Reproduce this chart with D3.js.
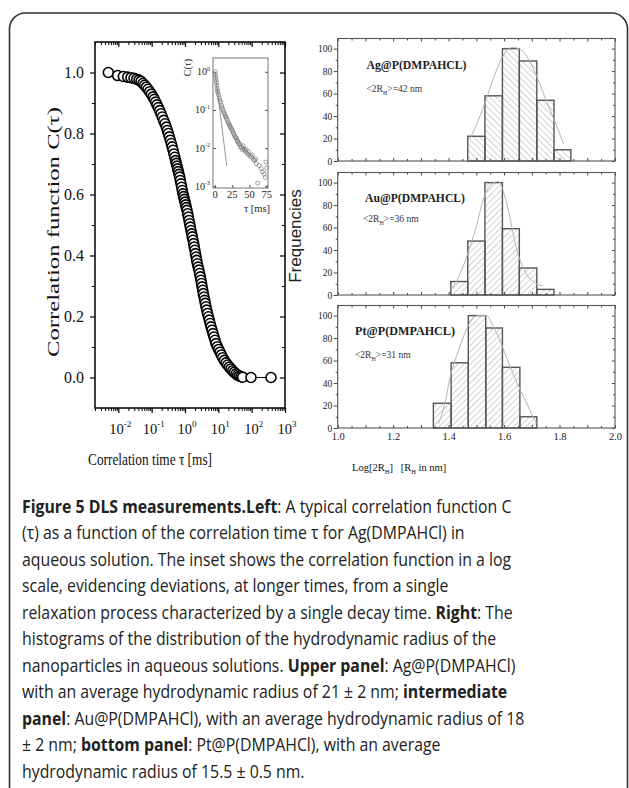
<!DOCTYPE html>
<html>
<head>
<meta charset="utf-8">
<script src="https://cdn.jsdelivr.net/npm/d3@7"></script>
<style>
  body { margin: 0; background: #fff; }
  svg { display: block; }
</style>
</head>
<body>
<svg id="fig" width="629" height="788"></svg>
<script>
// Figure 5: DLS correlation function (left) + size histograms (right)

const corrLogTau = [-2.30, -2.02, -1.85, -1.72, -1.62, -1.53, -1.45, -1.38, -1.32, -1.26,
  -1.21, -1.16, -1.11, -1.06, -1.01, -0.96, -0.92, -0.88, -0.84, -0.80,
  -0.76, -0.72, -0.68, -0.64, -0.60, -0.56, -0.53, -0.50, -0.47, -0.44,
  -0.41, -0.384, -0.358, -0.332, -0.306, -0.28, -0.26, -0.24, -0.22, -0.20,
  -0.18, -0.16, -0.14, -0.12, -0.10, -0.08, -0.06, -0.04, -0.02, 0.00,
  0.02, 0.04, 0.06, 0.08, 0.10, 0.12, 0.14, 0.16, 0.18, 0.20,
  0.22, 0.24, 0.26, 0.278, 0.296, 0.314, 0.332, 0.35, 0.372, 0.394,
  0.416, 0.438, 0.46, 0.478, 0.496, 0.514, 0.532, 0.55, 0.57, 0.59,
  0.61, 0.63, 0.65, 0.676, 0.702, 0.728, 0.754, 0.78, 0.81, 0.84,
  0.87, 0.90, 0.93, 0.97, 1.01, 1.05, 1.09, 1.13, 1.18, 1.23,
  1.28, 1.33, 1.38, 1.43, 1.48, 1.53, 1.58, 1.63, 1.68, 1.73,
  1.98, 2.58];
const corrC = [1.000, 0.990, 0.987, 0.985, 0.983, 0.981, 0.978, 0.975, 0.971, 0.964,
  0.958, 0.952, 0.945, 0.937, 0.929, 0.920, 0.912, 0.903, 0.894, 0.885,
  0.875, 0.865, 0.854, 0.843, 0.832, 0.821, 0.810, 0.800, 0.789, 0.778,
  0.767, 0.756, 0.745, 0.733, 0.722, 0.711, 0.702, 0.693, 0.684, 0.675,
  0.666, 0.657, 0.646, 0.635, 0.624, 0.613, 0.602, 0.593, 0.584, 0.575,
  0.566, 0.557, 0.548, 0.537, 0.526, 0.515, 0.504, 0.493, 0.482, 0.471,
  0.461, 0.450, 0.439, 0.428, 0.417, 0.406, 0.395, 0.384, 0.373, 0.362,
  0.352, 0.341, 0.330, 0.319, 0.308, 0.297, 0.286, 0.275, 0.264, 0.253,
  0.243, 0.232, 0.221, 0.210, 0.199, 0.188, 0.177, 0.166, 0.155, 0.144,
  0.133, 0.122, 0.111, 0.101, 0.092, 0.083, 0.074, 0.065, 0.056, 0.048,
  0.041, 0.034, 0.028, 0.022, 0.017, 0.012, 0.008, 0.005, 0.003, 0.001,
  0.000, 0.000];
const corrTicks = [0, 0.2, 0.4, 0.6, 0.8, 1.0];
const corrMinor = [0.1, 0.3, 0.5, 0.7, 0.9];
const decades = [-2, -1, 0, 1, 2, 3];

// inset (log C vs linear tau)
const insetTau = [0, 0.5, 1, 1.5, 2, 2.5, 3, 3.5, 4,
  5, 6, 7, 8, 9, 10, 11, 12, 13, 14, 15, 16, 17, 18, 19, 20,
  21, 22, 23, 24, 25, 26, 27, 28, 29, 30, 31, 32, 33, 34, 35, 36,
  37, 38.7, 40, 41, 42, 43.5, 45, 46, 48, 49, 51, 53, 54, 56, 57.5,
  59, 60, 62, 64, 67, 69, 71.5, 73, 74, 75];
const insetC = [1.00, 0.85, 0.72, 0.61, 0.52, 0.44, 0.37, 0.32, 0.29,
  0.25, 0.21, 0.18, 0.16, 0.135, 0.12, 0.105, 0.094, 0.084, 0.077, 0.070, 0.064, 0.058, 0.053, 0.047, 0.043,
  0.040, 0.037, 0.034, 0.031, 0.029, 0.026, 0.024, 0.022, 0.020, 0.019, 0.018, 0.016, 0.015, 0.014, 0.013, 0.0124,
  0.0105, 0.0107, 0.009, 0.0115, 0.0095, 0.0085, 0.0092, 0.0075, 0.0068, 0.0080, 0.0062, 0.0058, 0.0066, 0.0050, 0.0047,
  0.0052, 0.0039, 0.0012, 0.0035, 0.0029, 0.0024, 0.0021, 0.0017, 0.0043, 0.0030];
const insetFitTau = [0, 17];
const insetFitC = [1.0, 0.0034];
const insetXTicks = [0, 25, 50, 75];
const insetDecades = [0, -1, -2, -3];

// histograms
const histSamples = ['Ag@P(DMPAHCL)', 'Au@P(DMPAHCL)', 'Pt@P(DMPAHCL)'];
const histMeans = ['42', '36', '31'];
const histEdges = [
  [1.469, 1.531, 1.594, 1.655, 1.718, 1.780, 1.841],
  [1.408, 1.469, 1.531, 1.594, 1.655, 1.718, 1.780],
  [1.345, 1.409, 1.471, 1.534, 1.594, 1.657, 1.718],
];
const histFreq = [
  [22, 58, 100, 89, 54, 10],
  [12, 48, 100, 59, 24, 5],
  [22, 58, 100, 89, 54, 10],
];
const fitX = [
  [1.478, 1.51, 1.54, 1.57, 1.60, 1.63, 1.66, 1.69, 1.72, 1.75, 1.78, 1.815],
  [1.405, 1.43, 1.453, 1.48, 1.501, 1.525, 1.549, 1.579, 1.609, 1.645, 1.682, 1.71, 1.741],
  [1.363, 1.385, 1.405, 1.43, 1.453, 1.48, 1.507, 1.537, 1.56, 1.585, 1.61, 1.633, 1.66, 1.682, 1.70, 1.718],
];
const fitY = [
  [20, 38, 58, 79, 95, 101, 99, 90, 74, 55, 37, 15],
  [4, 13, 26, 45, 62, 85, 97, 101, 82, 41, 18, 11, 8],
  [4, 20, 45, 65, 81, 95, 100, 100, 91, 78, 62, 48, 33, 22, 12, 4],
];
const histTicks = [1.0, 1.2, 1.4, 1.6, 1.8, 2.0];
const freqTicks = [0, 20, 40, 60, 80, 100];

const captionLines = [
  [['Figure 5 DLS measurements.Left', 1], [': A typical correlation function C', 0]],
  [['(τ) as a function of the correlation time τ for Ag(DMPAHCl) in', 0]],
  [['aqueous solution. The inset shows the correlation function in a log', 0]],
  [['scale, evidencing deviations, at longer times, from a single', 0]],
  [['relaxation process characterized by a single decay time. ', 0], ['Right', 1], [': The', 0]],
  [['histograms of the distribution of the hydrodynamic radius of the', 0]],
  [['nanoparticles in aqueous solutions. ', 0], ['Upper panel', 1], [': Ag@P(DMPAHCl)', 0]],
  [['with an average hydrodynamic radius of 21 ± 2 nm; ', 0], ['intermediate', 1]],
  [['panel', 1], [': Au@P(DMPAHCl), with an average hydrodynamic radius of 18', 0]],
  [['± 2 nm; ', 0], ['bottom panel', 1], [': Pt@P(DMPAHCl), with an average', 0]],
  [['hydrodynamic radius of 15.5 ± 0.5 nm.', 0]],
];

const SERIF = '"Liberation Serif", "DejaVu Serif", serif';
const svg = d3.select('#fig');

// outer frame
svg.append('rect')
  .attr('x', 9.5).attr('y', 13).attr('width', 618).attr('height', 820).attr('rx', 16)
  .attr('fill', 'none').attr('stroke', '#333').attr('stroke-width', 1.6);

function tickGroup(axis, tx, ty, color, w) {
  const g = svg.append('g').attr('transform', `translate(${tx},${ty})`).call(axis);
  g.select('.domain').remove();
  g.selectAll('line').attr('stroke', color).attr('stroke-width', w);
  return g;
}

// ---------- left: correlation function ----------
const M = { left: 95, right: 285, top: 42, bottom: 408 };
const xMain = d3.scaleLog().domain([Math.pow(10, -2.7), 1000]).range([M.left, M.right]);
const yMain = d3.scaleLinear().domain([-0.1, 1.1]).range([M.bottom, M.top]);

const logMinor = xMain.ticks().filter(v => Math.abs(Math.log10(v) - Math.round(Math.log10(v))) > 1e-6);
const logMajor = decades.map(d => Math.pow(10, d));

svg.append('rect')
  .attr('x', M.left).attr('y', M.top).attr('width', M.right - M.left).attr('height', M.bottom - M.top)
  .attr('fill', '#fff');

[M.top, M.bottom].forEach(yy => {
  tickGroup(d3.axisBottom(xMain).tickValues(logMajor).tickSize(5).tickFormat(''), 0, yy, '#000', 1.2);
  tickGroup(d3.axisBottom(xMain).tickValues(logMinor).tickSize(3).tickFormat(''), 0, yy, '#000', 1);
});
const yLab = tickGroup(d3.axisLeft(yMain).tickValues(corrTicks).tickSize(5).tickPadding(6).tickFormat(d3.format('.1f')), M.left, 0, '#000', 1.2);
yLab.attr('font-family', SERIF).attr('font-size', 16);
yLab.selectAll('text').attr('fill', '#111');
tickGroup(d3.axisLeft(yMain).tickValues(corrMinor).tickSize(3).tickFormat(''), M.left, 0, '#000', 1);
tickGroup(d3.axisLeft(yMain).tickValues(corrTicks).tickSize(5).tickFormat(''), M.right, 0, '#000', 1.2);
tickGroup(d3.axisLeft(yMain).tickValues(corrMinor).tickSize(3).tickFormat(''), M.right, 0, '#000', 1);

// decade labels with superscripts
const xl = svg.append('g').attr('font-family', SERIF).attr('fill', '#111');
decades.forEach(d => {
  const t = xl.append('text').attr('x', xMain(Math.pow(10, d)) + 2).attr('y', 434).attr('text-anchor', 'middle');
  t.append('tspan').attr('font-size', 14.5).text('10');
  t.append('tspan').attr('font-size', 9).attr('dy', -7).text(d);
});

const corrPts = corrLogTau.map((lt, i) => [Math.pow(10, lt), corrC[i]]);
svg.append('path')
  .datum(corrPts)
  .attr('d', d3.line().x(d => xMain(d[0])).y(d => yMain(d[1])))
  .attr('fill', 'none').attr('stroke', '#000').attr('stroke-width', 1);
svg.append('g').selectAll('circle').data(corrPts).join('circle')
  .attr('cx', d => xMain(d[0])).attr('cy', d => yMain(d[1])).attr('r', 5)
  .attr('fill', '#fff').attr('stroke', '#000').attr('stroke-width', 1.6);

svg.append('rect')
  .attr('x', M.left).attr('y', M.top).attr('width', M.right - M.left).attr('height', M.bottom - M.top)
  .attr('fill', 'none').attr('stroke', '#000').attr('stroke-width', 1.5);

svg.append('text')
  .attr('transform', 'translate(59,357) rotate(-90)')
  .attr('font-family', SERIF).attr('font-size', 17).attr('fill', '#111')
  .attr('textLength', 250).attr('lengthAdjust', 'spacingAndGlyphs')
  .text('Correlation function C(τ)');
svg.append('text')
  .attr('x', 88).attr('y', 465)
  .attr('font-family', SERIF).attr('font-size', 17).attr('fill', '#111')
  .attr('textLength', 124).attr('lengthAdjust', 'spacingAndGlyphs')
  .text('Correlation time  τ  [ms]');

// ---------- inset ----------
const I = { left: 213, right: 268, top: 58, bottom: 188 };
const xIn = d3.scaleLinear().domain([-3, 77]).range([I.left, I.right]);
const yIn = d3.scaleLog().domain([0.0009, 2.3]).range([I.bottom, I.top]);

svg.append('rect')
  .attr('x', I.left).attr('y', I.top).attr('width', I.right - I.left).attr('height', I.bottom - I.top)
  .attr('fill', '#fff').attr('stroke', '#777').attr('stroke-width', 1);
const inDec = insetDecades.map(d => Math.pow(10, d));
tickGroup(d3.axisRight(yIn).tickValues(inDec).tickSize(3).tickFormat(''), I.left, 0, '#555', 1);
tickGroup(d3.axisLeft(yIn).tickValues(inDec).tickSize(3).tickFormat(''), I.right, 0, '#555', 1);
tickGroup(d3.axisTop(xIn).tickValues(insetXTicks).tickSize(3).tickFormat(''), 0, I.bottom, '#555', 1);

const inPts = insetTau.map((t, i) => [t, insetC[i]]);
svg.append('path')
  .datum(insetFitTau.map((t, i) => [t, insetFitC[i]]))
  .attr('d', d3.line().x(d => xIn(d[0])).y(d => yIn(d[1])))
  .attr('stroke', '#9a9a9a').attr('stroke-width', 1).attr('fill', 'none');
svg.append('g').selectAll('circle').data(inPts).join('circle')
  .attr('cx', d => xIn(d[0])).attr('cy', d => yIn(d[1])).attr('r', 2)
  .attr('fill', 'none').attr('stroke', '#777').attr('stroke-width', 0.7);

const il = svg.append('g').attr('font-family', SERIF).attr('fill', '#222');
insetDecades.forEach(d => {
  const t = il.append('text').attr('x', 210).attr('y', yIn(Math.pow(10, d)) + 3.5).attr('text-anchor', 'end');
  t.append('tspan').attr('font-size', 10).text('10');
  t.append('tspan').attr('font-size', 6).attr('dy', -4.5).text(d);
});
insetXTicks.forEach(v => {
  il.append('text').attr('x', xIn(v)).attr('y', 198).attr('text-anchor', 'middle')
    .attr('font-size', 10.5).text(v);
});
il.append('text').attr('x', 257).attr('y', 212).attr('text-anchor', 'middle').attr('font-size', 10.5).text('τ [ms]');
il.append('text').attr('transform', 'translate(191,67.5) rotate(-90)').attr('text-anchor', 'middle')
  .attr('font-size', 10).text('C(τ)');

// ---------- right: histograms ----------
const H = { left: 337.7, right: 615, height: 122.5 };
const panelTops = [38.5, 172.5, 305.5];
const xH = d3.scaleLinear().domain([1, 2]).range([H.left, H.right]);
const xMajorH = d3.range(1, 2.0001, 0.1);
const xMinorH = d3.range(1.05, 2, 0.1);

const defs = svg.append('defs');
[['hatchBack', -45], ['hatchFwd', 45]].forEach(([id, ang]) => {
  const p = defs.append('pattern').attr('id', id).attr('patternUnits', 'userSpaceOnUse')
    .attr('width', 4.4).attr('height', 4.4).attr('patternTransform', `rotate(${ang})`);
  p.append('line').attr('x1', 0).attr('y1', 0).attr('x2', 0).attr('y2', 4.4)
    .attr('stroke', '#999').attr('stroke-width', 0.9);
});

histSamples.forEach((name, k) => {
  const top = panelTops[k];
  const bottom = top + H.height;
  const yH = d3.scaleLinear().domain([0, 109]).range([bottom, top]);
  const minorY = [10, 30, 50, 70, 90];

  svg.append('rect').attr('x', H.left).attr('y', top).attr('width', H.right - H.left).attr('height', H.height)
    .attr('fill', '#fff');

  const bars = histFreq[k].map((f, j) => ({ x0: histEdges[k][j], x1: histEdges[k][j + 1], f }));
  svg.append('g').selectAll('rect').data(bars).join('rect')
    .attr('x', d => xH(d.x0)).attr('width', d => xH(d.x1) - xH(d.x0))
    .attr('y', d => yH(d.f)).attr('height', d => bottom - yH(d.f))
    .attr('fill', `url(#${k === 0 ? 'hatchBack' : 'hatchFwd'})`)
    .attr('stroke', '#555').attr('stroke-width', 1.4);

  svg.append('path')
    .datum(fitX[k].map((x, j) => [x, fitY[k][j]]))
    .attr('d', d3.line().curve(d3.curveMonotoneX).x(d => xH(d[0])).y(d => yH(d[1])))
    .attr('fill', 'none').attr('stroke', '#b4b4b4').attr('stroke-width', 1);

  const ly = tickGroup(d3.axisLeft(yH).tickValues(freqTicks).tickSize(4).tickPadding(1.5), H.left, 0, '#444', 1);
  ly.attr('font-family', SERIF).attr('font-size', 9.5);
  ly.selectAll('text').attr('fill', '#222');
  tickGroup(d3.axisLeft(yH).tickValues(minorY).tickSize(2).tickFormat(''), H.left, 0, '#444', 1);
  tickGroup(d3.axisLeft(yH).tickValues(freqTicks).tickSize(3).tickFormat(''), H.right, 0, '#444', 1);
  tickGroup(d3.axisLeft(yH).tickValues(minorY).tickSize(2).tickFormat(''), H.right, 0, '#444', 1);
  tickGroup(d3.axisBottom(xH).tickValues(xMajorH).tickSize(3).tickFormat(''), 0, top, '#444', 1);
  tickGroup(d3.axisBottom(xH).tickValues(xMinorH).tickSize(2).tickFormat(''), 0, top, '#444', 1);
  tickGroup(d3.axisTop(xH).tickValues(xMajorH).tickSize(3).tickFormat(''), 0, bottom, '#444', 1);
  tickGroup(d3.axisTop(xH).tickValues(xMinorH).tickSize(2).tickFormat(''), 0, bottom, '#444', 1);

  if (k === 2) {
    const lx = tickGroup(d3.axisBottom(xH).tickValues(histTicks).tickSize(0).tickPadding(4.5).tickFormat(d3.format('.1f')), 0, bottom, '#444', 1);
    lx.attr('font-family', SERIF).attr('font-size', 10.5);
    lx.selectAll('text').attr('fill', '#222');
  }

  svg.append('rect').attr('x', H.left).attr('y', top).attr('width', H.right - H.left).attr('height', H.height)
    .attr('fill', 'none').attr('stroke', '#555').attr('stroke-width', 1.1);

  const labelX = [366.5, 365, 355][k];
  const nameY = [68.7, 201.7, 335][k];
  const meanX = [366.5, 363, 355][k];
  const meanY = [92, 222.3, 358.3][k];
  svg.append('text').attr('x', labelX).attr('y', nameY)
    .attr('font-family', SERIF).attr('font-size', 11.5).attr('font-weight', 'bold').attr('fill', '#222')
    .attr('textLength', 100).attr('lengthAdjust', 'spacingAndGlyphs')
    .text(name);
  const m = svg.append('text').attr('x', meanX).attr('y', meanY)
    .attr('font-family', SERIF).attr('font-size', 9.5).attr('fill', '#333');
  m.append('tspan').text('<2R');
  m.append('tspan').attr('font-size', 6).attr('dy', 2.5).text('H');
  m.append('tspan').attr('dy', -2.5).text(`>=${histMeans[k]} nm`);
});

svg.append('text')
  .attr('transform', 'translate(301,236) rotate(-90)').attr('text-anchor', 'middle')
  .attr('font-family', '"Liberation Sans", Arial, sans-serif').attr('font-size', 17).attr('fill', '#222')
  .text('Frequencies');

const xt = svg.append('text').attr('x', 352).attr('y', 471)
  .attr('font-family', SERIF).attr('font-size', 10.5).attr('fill', '#111').style('white-space', 'pre');
xt.append('tspan').text('Log[2R');
xt.append('tspan').attr('font-size', 6.5).attr('dy', 2.5).text('H');
xt.append('tspan').attr('dy', -2.5).text(']   [R');
xt.append('tspan').attr('font-size', 6.5).attr('dy', 2.5).text('H');
xt.append('tspan').attr('dy', -2.5).text(' in nm]');

// ---------- caption ----------
const cap = svg.append('g')
  .attr('font-family', '"Open Sans", "Noto Sans", sans-serif').attr('font-size', 18).attr('fill', '#222');
captionLines.forEach((parts, i) => {
  const t = cap.append('text').attr('x', 0).attr('y', 513 + i * 26.5).style('white-space', 'pre');
  parts.forEach(([s, b]) => {
    t.append('tspan').attr('font-weight', b ? 'bold' : 'normal').text(s);
  });
});
const firstW = cap.select('text').node().getComputedTextLength();
cap.attr('transform', `translate(22,0) scale(${490 / firstW},1)`);
</script>
</body>
</html>
